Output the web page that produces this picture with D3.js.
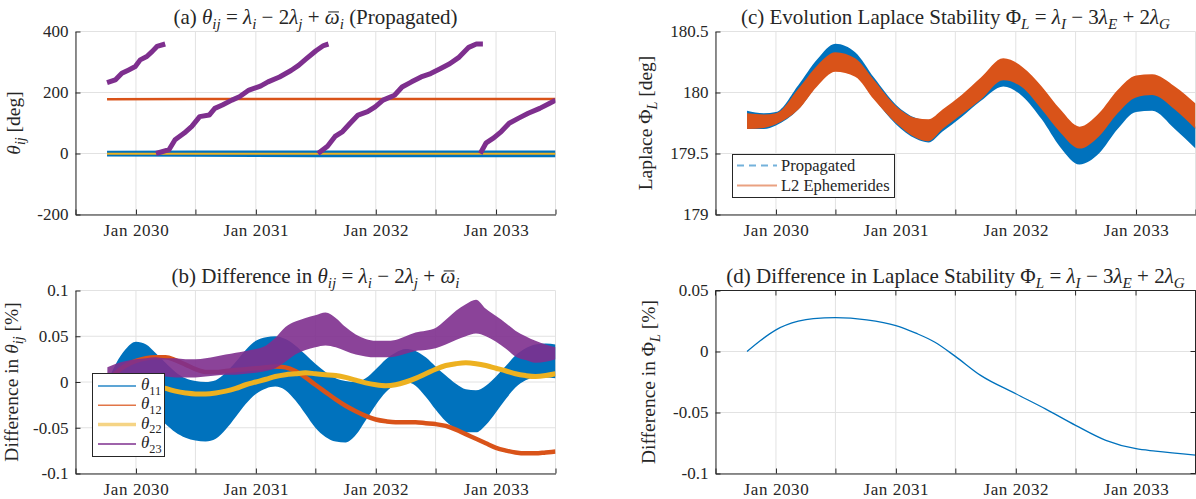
<!DOCTYPE html>
<html>
<head>
<meta charset="utf-8">
<script src="https://cdn.jsdelivr.net/npm/d3@7/dist/d3.min.js"></script>
<style>
html,body{margin:0;padding:0;background:#fff;}
svg text{font-family:"Liberation Serif","Times New Roman",serif;fill:#262626;}
</style>
</head>
<body>
<svg id="chart" width="1196" height="499"></svg>
<script>
// ---------------- shared x axis ----------------
const xDomainDates = ["2029-07-01", "2033-07-01"];
const xTickDates = ["2029-07-01","2030-01-01","2030-07-01","2031-01-01","2031-07-01","2032-01-01","2032-07-01","2033-01-01","2033-07-01"];
const xTickLabels = ["","Jan 2030","","Jan 2031","","Jan 2032","","Jan 2033",""];

// ---------------- (a) propagated theta ----------------
const aTicks = [-200, 0, 200, 400];
const aTickLabels = ["-200", "0", "200", "400"];
const aBandDates = ["2029-10-05","2030-07-01","2031-07-01","2032-07-01","2033-07-01"];
const aTheta11Upper = [9, 10, 10, 10, 10];
const aTheta11Lower = [-10, -11, -12, -12, -12];
const aTheta12 = [178, 179, 179, 179, 179];
const aTheta22 = [-1, -1, -1, -1, -1];
const aTheta23Dates = [
 "2029-10-05","2029-10-30","2029-11-19","2029-12-10","2029-12-30","2030-01-14","2030-02-03","2030-02-19","2030-03-06","2030-03-31", null,
 "2030-03-03","2030-04-12","2030-04-30","2030-05-28","2030-06-20","2030-07-14","2030-08-12","2030-08-29","2030-09-21","2030-10-20","2030-11-12","2030-12-11","2031-01-15","2031-02-07","2031-03-14","2031-04-18","2031-05-11","2031-06-03","2031-07-03","2031-07-26","2031-08-10", null,
 "2031-07-09","2031-08-07","2031-08-30","2031-09-22","2031-10-15","2031-11-08","2031-12-07","2031-12-30","2032-01-23","2032-02-27","2032-03-21","2032-04-19","2032-05-18","2032-06-16","2032-07-15","2032-08-13","2032-09-11","2032-10-10","2032-11-02","2032-11-22", null,
 "2032-11-14","2032-12-02","2032-12-25","2033-01-17","2033-02-10","2033-03-11","2033-04-09","2033-05-14","2033-06-12","2033-07-01"];
const aTheta23 = [
 232,241,263,274,285,307,318,334,351,359, null,
 0,13,45,67,89,121,126,148,159,175,186,208,221,235,251,272,289,310,337,354,359, null,
 0,24,56,72,99,126,137,153,175,191,218,235,251,262,278,294,316,348,359,359, null,
 0,35,51,72,99,116,132,148,164,175];

// ---------------- (b) difference in theta ----------------
const bTicks = [-0.1, -0.05, 0, 0.05, 0.1];
const bTickLabels = ["-0.1", "-0.05", "0", "0.05", "0.1"];
const bDates = ["2029-10-06","2029-11-01","2029-12-01",
 "2030-01-01","2030-02-01","2030-03-01","2030-04-01","2030-05-01","2030-06-01","2030-07-01","2030-08-01","2030-09-01","2030-10-01","2030-11-01","2030-12-01",
 "2031-01-01","2031-02-01","2031-03-01","2031-04-01","2031-05-01","2031-06-01","2031-07-01","2031-08-01","2031-09-01","2031-10-01","2031-11-01","2031-12-01",
 "2032-01-01","2032-02-01","2032-03-01","2032-04-01","2032-05-01","2032-06-01","2032-07-01","2032-08-01","2032-09-01","2032-10-01","2032-11-01","2032-12-01",
 "2033-01-01","2033-02-01","2033-03-01","2033-04-01","2033-05-01","2033-06-01","2033-07-01"];
const bTheta11Upper = [0.000,0.020,0.036,
 0.044,0.041,0.032,0.021,0.011,0.004,0.001,0.000,0.002,0.010,0.022,0.035,
 0.045,0.049,0.050,0.047,0.040,0.030,0.020,0.011,0.004,0.001,0.000,0.004,
 0.014,0.025,0.032,0.036,0.034,0.027,0.017,0.007,-0.002,-0.008,-0.009,-0.004,
 0.006,0.018,0.029,0.037,0.041,0.042,0.041];
const bTheta11Lower = [0.000,-0.006,-0.012,
 -0.018,-0.026,-0.036,-0.046,-0.055,-0.061,-0.064,-0.065,-0.062,-0.052,-0.038,-0.024,
 -0.013,-0.007,-0.005,-0.009,-0.020,-0.035,-0.050,-0.060,-0.065,-0.066,-0.058,-0.042,
 -0.025,-0.011,-0.003,0.000,-0.004,-0.016,-0.030,-0.043,-0.051,-0.055,-0.055,-0.047,
 -0.033,-0.018,-0.006,0.002,0.005,0.005,0.004];
const bTheta12 = [0.000,0.010,0.018,
 0.023,0.026,0.027,0.027,0.024,0.019,0.014,0.011,0.011,0.012,0.013,0.014,
 0.015,0.016,0.017,0.016,0.012,0.005,-0.003,-0.011,-0.019,-0.026,-0.032,-0.037,
 -0.041,-0.043,-0.044,-0.044,-0.044,-0.045,-0.046,-0.048,-0.052,-0.057,-0.062,-0.067,
 -0.072,-0.075,-0.077,-0.078,-0.078,-0.077,-0.076];
const bTheta22 = [0.000,-0.001,-0.002,
 -0.003,-0.004,-0.005,-0.007,-0.010,-0.012,-0.013,-0.013,-0.012,-0.010,-0.007,-0.003,
 0.000,0.003,0.006,0.008,0.009,0.010,0.009,0.008,0.007,0.005,0.002,-0.001,
 -0.003,-0.004,-0.003,0.000,0.004,0.009,0.014,0.018,0.020,0.021,0.020,0.018,
 0.015,0.012,0.009,0.007,0.006,0.007,0.009];
const bTheta23Upper = [0.016,0.020,0.023,
 0.025,0.026,0.027,0.026,0.026,0.025,0.025,0.026,0.028,0.030,0.032,0.034,
 0.036,0.040,0.048,0.060,0.066,0.070,0.073,0.076,0.070,0.060,0.052,0.047,
 0.045,0.045,0.046,0.050,0.054,0.056,0.059,0.068,0.078,0.085,0.090,0.080,
 0.072,0.064,0.056,0.050,0.045,0.041,0.038];
const bTheta23Lower = [0.004,0.006,0.006,
 0.006,0.006,0.006,0.006,0.005,0.005,0.005,0.006,0.007,0.008,0.008,0.009,
 0.010,0.012,0.015,0.022,0.030,0.035,0.038,0.040,0.038,0.034,0.030,0.028,
 0.027,0.027,0.028,0.031,0.034,0.035,0.037,0.041,0.046,0.050,0.053,0.050,
 0.044,0.036,0.028,0.024,0.021,0.022,0.025];
const bLegendNames = [["θ","11"],["θ","12"],["θ","22"],["θ","23"]];

// ---------------- (c) Laplace stability ----------------
const cTicks = [179, 179.5, 180, 180.5];
const cTickLabels = ["179", "179.5", "180", "180.5"];
const cDates = ["2029-10-05","2029-11-25","2030-01-01","2030-03-10","2030-05-06","2030-07-01","2030-08-30","2030-10-27",
 "2031-01-01","2031-03-03","2031-04-10","2031-05-23","2031-07-20","2031-09-16","2031-11-24",
 "2032-01-21","2032-03-20","2032-05-16","2032-07-13","2032-09-10","2032-11-06",
 "2033-01-01","2033-02-19","2033-04-29","2033-07-01"];
const cPropUpper = [179.85,179.83,179.84,180.06,180.27,180.40,180.33,180.12,179.90,179.79,179.77,179.85,179.97,180.10,180.22,180.15,179.97,179.75,179.62,179.70,179.88,180.02,180.02,179.90,179.72];
const cPropLower = [179.70,179.70,179.73,179.86,180.06,180.21,180.16,179.95,179.74,179.62,179.59,179.68,179.80,179.93,180.05,179.97,179.78,179.55,179.41,179.50,179.70,179.84,179.85,179.70,179.54];
const cEphUpper  = [179.83,179.82,179.83,180.03,180.22,180.33,180.28,180.10,179.89,179.79,179.78,179.86,179.98,180.12,180.28,180.21,180.05,179.86,179.72,179.83,180.02,180.14,180.15,180.05,179.91];
const cEphLower  = [179.70,179.71,179.74,179.86,180.05,180.17,180.13,179.94,179.75,179.63,179.60,179.70,179.82,179.94,180.10,180.04,179.86,179.67,179.54,179.64,179.83,179.96,179.98,179.86,179.70];
const cLegendNames = ["Propagated", "L2 Ephemerides"];

// ---------------- (d) difference in Laplace ----------------
const dTicks = [-0.1, -0.05, 0, 0.05];
const dTickLabels = ["-0.1", "-0.05", "0", "0.05"];
const dDates = ["2029-10-05","2029-11-15","2030-01-01","2030-03-10","2030-04-25","2030-07-01","2030-10-04","2031-01-01","2031-03-03","2031-04-30","2031-07-01","2031-09-16","2032-01-01","2032-03-31","2032-07-01","2032-10-01","2033-01-01","2033-03-01","2033-07-01"];
const dValues = [0.000,0.009,0.0177,0.0248,0.027,0.0278,0.026,0.0213,0.015,0.0076,-0.004,-0.0196,-0.0346,-0.047,-0.0605,-0.0728,-0.0797,-0.0817,-0.085];

// ---------------- titles / labels (text) ----------------
const titleA = [["(a) ",""],["θ","i"],["ij","s"],[" = ",""],["λ","i"],["i","s"],[" − 2",""],["λ","i"],["j","s"],[" + ",""],["ω","b"],["i","s"],[" (Propagated)",""]];
const titleB = [["(b) Difference in ",""],["θ","i"],["ij","s"],[" = ",""],["λ","i"],["i","s"],[" − 2",""],["λ","i"],["j","s"],[" + ",""],["ω","b"],["i","s"]];
const titleC = [["(c) Evolution Laplace Stability Φ",""],["L","s"],[" = ",""],["λ","i"],["I","s"],[" − 3",""],["λ","i"],["E","s"],[" + 2",""],["λ","i"],["G","s"]];
const titleD = [["(d) Difference in Laplace Stability Φ",""],["L","s"],[" = ",""],["λ","i"],["I","s"],[" − 3",""],["λ","i"],["E","s"],[" + 2",""],["λ","i"],["G","s"]];
const ylabA = [["θ","i"],["ij","s"],["  [deg]",""]];
const ylabB = [["Difference in ",""],["θ","i"],["ij","s"],[" [%]",""]];
const ylabC = [["Laplace Φ",""],["L","s"],[" [deg]",""]];
const ylabD = [["Difference in Φ",""],["L","s"],[" [%]",""]];

// ---------------- drawing ----------------
const parse = d3.timeParse("%Y-%m-%d");
const COL = {blue:"#0072BD", orange:"#D95319", yellow:"#EDB120", purple:"#7E2F8E"};
const AX = "#262626", GRID = "#e2e2e2";
const TITLE_FS = 21, LABEL_FS = 19.5, TICK_FS = 17;
const svg = d3.select("#chart");
svg.append("rect").attr("width",1196).attr("height",499).attr("fill","#fff");
const defs = svg.append("defs");

const PANELS = {
  a:{x0:75.5, x1:555.5, y0:31.5, y1:214.5},
  b:{x0:75.5, x1:555.5, y0:290.5, y1:473.5},
  c:{x0:715.5, x1:1195.5, y0:31.5, y1:214.5},
  d:{x0:715.5, x1:1195.5, y0:290.5, y1:473.5}
};

// rich text: "" upright, "i" italic, "s" italic subscript, "n" upright subscript, "b" italic with bar
function rich(sel, segs, size, parentG) {
  let shift = 0, idx = 0;
  const bars = [];
  segs.forEach(([t, s]) => {
    const sub = (s === "s" || s === "n");
    const target = sub ? 0.28 * size : 0;
    if (s === "b") bars.push(idx);
    sel.append("tspan").text(t)
      .attr("dy", (target - shift).toFixed(2))
      .style("font-style", (s === "i" || s === "s" || s === "b") ? "italic" : "normal")
      .style("font-size", (sub ? 0.72 * size : size) + "px");
    shift = target;
    idx += t.length;
  });
  bars.forEach(ci => {
    const r = sel.node().getExtentOfChar(ci);
    const base = r.y + r.height * 0.80;
    const yb = base - 0.56 * size;
    (parentG || svg).append("line")
      .attr("x1", r.x + r.width * 0.22).attr("x2", r.x + r.width * 0.95)
      .attr("y1", yb).attr("y2", yb)
      .attr("stroke", AX).attr("stroke-width", Math.max(1, size * 0.05));
  });
}

function makePanel(key, yDomain, yTicks, yLabels) {
  const p = PANELS[key];
  const x = d3.scaleTime().domain(xDomainDates.map(parse)).range([p.x0, p.x1]);
  const y = d3.scaleLinear().domain(yDomain).range([p.y1, p.y0]);
  const g = svg.append("g");
  g.selectAll(null).data(xTickDates.map(parse)).join("line")
    .attr("x1", d => x(d)).attr("x2", d => x(d)).attr("y1", p.y0).attr("y2", p.y1)
    .attr("stroke", GRID).attr("stroke-width", 1);
  g.selectAll(null).data(yTicks).join("line")
    .attr("y1", d => y(d)).attr("y2", d => y(d)).attr("x1", p.x0).attr("x2", p.x1)
    .attr("stroke", GRID).attr("stroke-width", 1);
  defs.append("clipPath").attr("id", "clip-" + key).append("rect")
    .attr("x", p.x0).attr("y", p.y0).attr("width", p.x1 - p.x0).attr("height", p.y1 - p.y0);
  const plot = svg.append("g").attr("clip-path", `url(#clip-${key})`);
  return {p, x, y, plot, yTicks, yLabels};
}

function finishAxes(P, box) {
  const {p, x, y} = P;
  const xa = svg.append("g").attr("transform", `translate(0,${p.y1})`)
    .call(d3.axisBottom(x).tickValues(xTickDates.map(parse))
      .tickFormat((d, i) => xTickLabels[i]).tickSizeInner(-5).tickSizeOuter(0).tickPadding(9));
  const ya = svg.append("g").attr("transform", `translate(${p.x0},0)`)
    .call(d3.axisLeft(y).tickValues(P.yTicks)
      .tickFormat((d, i) => P.yLabels[i]).tickSizeInner(-5).tickSizeOuter(0).tickPadding(7));
  [xa, ya].forEach(a => {
    a.attr("font-size", null).attr("font-family", null);
    a.select(".domain").attr("stroke", AX).attr("stroke-width", 1);
    a.selectAll(".tick line").attr("stroke", AX);
    a.selectAll(".tick text").style("font-size", TICK_FS + "px").attr("fill", AX);
  });
  xa.selectAll(".tick text").style("letter-spacing", "0.6px");
  if (box) {
    svg.append("line").attr("x1", p.x0).attr("x2", p.x1).attr("y1", p.y0).attr("y2", p.y0).attr("stroke", AX);
    svg.append("line").attr("x1", p.x1).attr("x2", p.x1).attr("y1", p.y0).attr("y2", p.y1).attr("stroke", AX);
    P.yTicks.forEach(t => svg.append("line").attr("x1", p.x1 - 5).attr("x2", p.x1).attr("y1", y(t)).attr("y2", y(t)).attr("stroke", AX));
    xTickDates.map(parse).forEach(t => svg.append("line").attr("x1", x(t)).attr("x2", x(t)).attr("y1", p.y0).attr("y2", p.y0 + 5).attr("stroke", AX));
  }
}

function title(P, segs) {
  const t = svg.append("text").attr("x", (P.p.x0 + P.p.x1) / 2).attr("y", P.p.y0 - 8)
    .attr("text-anchor", "middle");
  rich(t, segs, TITLE_FS, svg);
}
function ylabel(P, segs, cx) {
  const cy = (P.p.y0 + P.p.y1) / 2;
  const g = svg.append("g").attr("transform", `translate(${cx},${cy}) rotate(-90)`);
  const t = g.append("text").attr("text-anchor", "middle").attr("dy", "0.35em");
  rich(t, segs, LABEL_FS, g);
}

function zip(dates, vals) { return dates.map((d, i) => ({d: d ? parse(d) : null, v: vals[i]})); }
function zipBand(dates, lo, hi) { return dates.map((d, i) => ({d: parse(d), lo: lo[i], hi: hi[i]})); }

// ===== Panel (a) =====
const A = makePanel("a", [-200, 400], aTicks, aTickLabels);
{
  const area = d3.area().x(d => A.x(d.d)).y0(d => A.y(d.lo)).y1(d => A.y(d.hi));
  const line = d3.line().defined(d => d.d !== null && d.v !== null).x(d => A.x(d.d)).y(d => A.y(d.v));
  A.plot.append("path").datum(zipBand(aBandDates, aTheta11Lower, aTheta11Upper))
    .attr("d", area).attr("fill", COL.blue);
  A.plot.append("path").datum(zip(aBandDates, aTheta12)).attr("d", line)
    .attr("fill", "none").attr("stroke", COL.orange).attr("stroke-width", 2.5);
  A.plot.append("path").datum(zip(aBandDates, aTheta22)).attr("d", line)
    .attr("fill", "none").attr("stroke", COL.yellow).attr("stroke-width", 2);
  A.plot.append("path").datum(zip(aTheta23Dates, aTheta23)).attr("d", line)
    .attr("fill", "none").attr("stroke", COL.purple).attr("stroke-width", 5).attr("stroke-linejoin", "round");
}
finishAxes(A, false);
title(A, titleA);
ylabel(A, ylabA, 20);

// ===== Panel (b) =====
const B = makePanel("b", [-0.1, 0.1], bTicks, bTickLabels);
{
  const area = d3.area().curve(d3.curveMonotoneX).x(d => B.x(d.d)).y0(d => B.y(d.lo)).y1(d => B.y(d.hi));
  const line = d3.line().curve(d3.curveMonotoneX).x(d => B.x(d.d)).y(d => B.y(d.v));
  B.plot.append("path").datum(zipBand(bDates, bTheta11Lower, bTheta11Upper)).attr("d", area).attr("fill", COL.blue);
  B.plot.append("path").datum(zip(bDates, bTheta12)).attr("d", line)
    .attr("fill", "none").attr("stroke", COL.orange).attr("stroke-width", 4.5);
  B.plot.append("path").datum(zip(bDates, bTheta22)).attr("d", line)
    .attr("fill", "none").attr("stroke", COL.yellow).attr("stroke-width", 5);
  B.plot.append("path").datum(zipBand(bDates, bTheta23Lower, bTheta23Upper)).attr("d", area)
    .attr("fill", COL.purple).attr("fill-opacity", 0.9);
}
finishAxes(B, false);
title(B, titleB);
ylabel(B, ylabB, 18);
{
  const lg = svg.append("g");
  lg.append("rect").attr("x", 92.5).attr("y", 373.5).attr("width", 72).attr("height", 83)
    .attr("fill", "#fff").attr("stroke", AX);
  const styles = [
    {c: COL.blue, w: 1.5, o: 0.85}, {c: COL.orange, w: 1.5, o: 0.8},
    {c: COL.yellow, w: 3.5, o: 0.55}, {c: COL.purple, w: 1.5, o: 1}];
  bLegendNames.forEach((nm, i) => {
    const yy = 386 + i * 19.3;
    lg.append("line").attr("x1", 98).attr("x2", 136).attr("y1", yy).attr("y2", yy)
      .attr("stroke", styles[i].c).attr("stroke-width", styles[i].w).attr("stroke-opacity", styles[i].o);
    const t = lg.append("text").attr("x", 141).attr("y", yy + 4);
    rich(t, [[nm[0], "i"], [nm[1], "n"]], 17, lg);
  });
}

// ===== Panel (c) =====
const C = makePanel("c", [179, 180.5], cTicks, cTickLabels);
{
  const area = d3.area().curve(d3.curveMonotoneX).x(d => C.x(d.d)).y0(d => C.y(d.lo)).y1(d => C.y(d.hi));
  C.plot.append("path").datum(zipBand(cDates, cPropLower, cPropUpper)).attr("d", area).attr("fill", COL.blue);
  C.plot.append("path").datum(zipBand(cDates, cEphLower, cEphUpper)).attr("d", area).attr("fill", COL.orange);
}
finishAxes(C, false);
title(C, titleC);
ylabel(C, ylabC, 652);
{
  const lg = svg.append("g");
  lg.append("rect").attr("x", 732.5).attr("y", 154.5).attr("width", 162).attr("height", 43)
    .attr("fill", "#fff").attr("stroke", AX);
  const yy = [165.5, 185.5];
  lg.append("line").attr("x1", 737).attr("x2", 777).attr("y1", yy[0]).attr("y2", yy[0])
    .attr("stroke", COL.blue).attr("stroke-width", 2).attr("stroke-opacity", 0.55).attr("stroke-dasharray", "7,5");
  lg.append("line").attr("x1", 737).attr("x2", 777).attr("y1", yy[1]).attr("y2", yy[1])
    .attr("stroke", COL.orange).attr("stroke-width", 2).attr("stroke-opacity", 0.55);
  cLegendNames.forEach((nm, i) => {
    lg.append("text").attr("x", 781).attr("y", yy[i] + 5.5).style("font-size", "16.5px").text(nm);
  });
}

// ===== Panel (d) =====
const D = makePanel("d", [-0.1, 0.05], dTicks, dTickLabels);
{
  const line = d3.line().curve(d3.curveMonotoneX).x(d => D.x(d.d)).y(d => D.y(d.v));
  D.plot.append("path").datum(zip(dDates, dValues)).attr("d", line)
    .attr("fill", "none").attr("stroke", COL.blue).attr("stroke-width", 1.3);
}
finishAxes(D, true);
title(D, titleD);
ylabel(D, ylabD, 655);
</script>
</body>
</html>
